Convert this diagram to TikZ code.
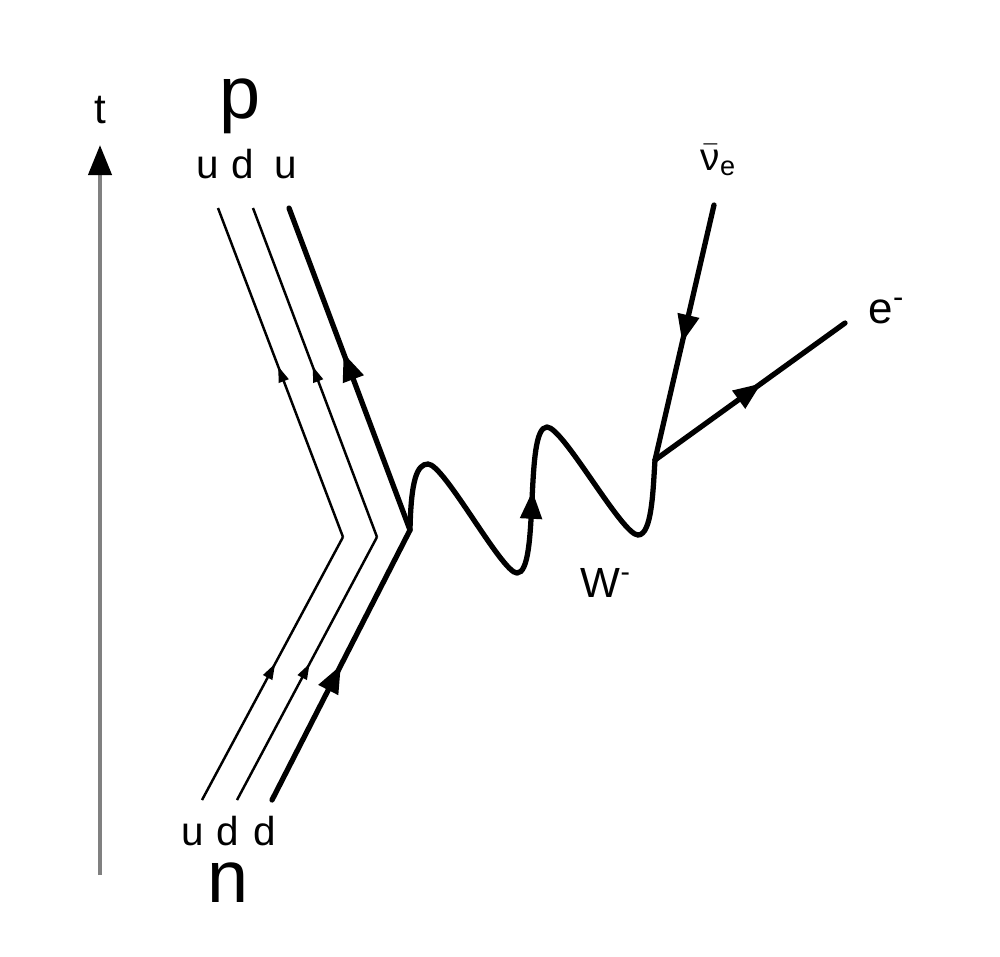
\documentclass[tikz,border=0pt]{standalone}
\usepackage{fontspec}
\setmainfont{Liberation Sans}
\usetikzlibrary{arrows.meta}
\usetikzlibrary{decorations.markings}

\begin{document}
\begin{tikzpicture}[x=0.01cm,y=-0.01cm,
  quark/.style={line width=0.7pt,decoration={markings,mark=at position #1 with {\arrow{Triangle[length=1.6mm,width=1.0mm]}}},postaction={decorate}},
  quark/.default=0.52,
  fermion/.style={line width=1.5pt,line cap=round,decoration={markings,mark=at position #1 with {\arrow{Triangle[length=2.8mm,width=2.1mm]}}},postaction={decorate}},
  fermion/.default=0.54,
  boson/.style={line width=1.5pt,line cap=round},
  lbl/.style={inner sep=0pt,anchor=base}]
\useasboundingbox (0,0) rectangle (1000,956);

% time axis
\coordinate (tbot) at (100,875);
\coordinate (ttop) at (100,145);
\draw[black!50,line width=1.2pt,-{Triangle[length=3mm,width=2.3mm,black]}] (tbot) -- (ttop);
\node[lbl,font=\fontsize{12}{14}\selectfont] (tlbl) at (100,123) {t};

% quark lines
\coordinate (ub1) at (202,800); \coordinate (uk1) at (343,537); \coordinate (ut1) at (218,208);
\coordinate (db2) at (237,800); \coordinate (dk2) at (377,537); \coordinate (ut2) at (253,208);
\coordinate (db3) at (272,800); \coordinate (qv) at (410,530); \coordinate (ut3) at (289,208);
\draw[quark] (ub1) -- (uk1); \draw[quark] (uk1) -- (ut1);
\draw[quark] (db2) -- (dk2); \draw[quark] (dk2) -- (ut2);
\draw[fermion=0.5] (db3) -- (qv); \draw[fermion=0.55] (qv) -- (ut3);

\node[lbl,font=\fontsize{21}{24}\selectfont,text height=0.55em,text depth=0.2em] (plbl) at (240,118) {p};
\node[lbl,font=\fontsize{11.5}{13}\selectfont] (u1) at (208,178) {u};
\node[lbl,font=\fontsize{11.5}{13}\selectfont] (d2) at (243,178) {d};
\node[lbl,font=\fontsize{11.5}{13}\selectfont] (u3) at (286,178) {u};
\node[lbl,font=\fontsize{11.5}{13}\selectfont] (u1n) at (193,845) {u};
\node[lbl,font=\fontsize{11.5}{13}\selectfont] (d2n) at (228,845) {d};
\node[lbl,font=\fontsize{11.5}{13}\selectfont] (d3n) at (265,845) {d};
\node[lbl,font=\fontsize{21}{24}\selectfont,text height=0.55em,text depth=0pt] (nlbl) at (228,902) {n};

% W boson
\coordinate (lv) at (655,460);
\draw[boson] (qv) .. controls (411,480) and (417,464) .. (428,464)
  .. controls (444,464) and (502,573) .. (517,573);
\draw[boson,decoration={markings,mark=at position 0.56 with {\arrow{Triangle[length=2.8mm,width=2.1mm]}}},postaction={decorate}]
  (517,573) .. controls (540,573) and (524,427) .. (547,427);
\draw[boson] (547,427) .. controls (563,427) and (622,535) .. (638,535)
  .. controls (652,535) and (653,490) .. (lv);
\node[lbl,anchor=base west,font=\fontsize{12}{14}\selectfont] (wlbl) at (580,597) {W\textsuperscript{-}};

% leptons
\coordinate (nuend) at (714,205);
\coordinate (eend) at (845,323);
\draw[fermion=0.54] (nuend) -- (lv);
\draw[fermion=0.56] (lv) -- (eend);
\node[lbl,anchor=base west,font=\fontsize{11}{13}\selectfont] (nulbl) at (700,170) {$\bar{\mbox{ν}}$\textsubscript{e}};
\node[lbl,anchor=base west,font=\fontsize{12.5}{14}\selectfont] (elbl) at (868,323) {e\textsuperscript{-}};
\end{tikzpicture}
\end{document}
